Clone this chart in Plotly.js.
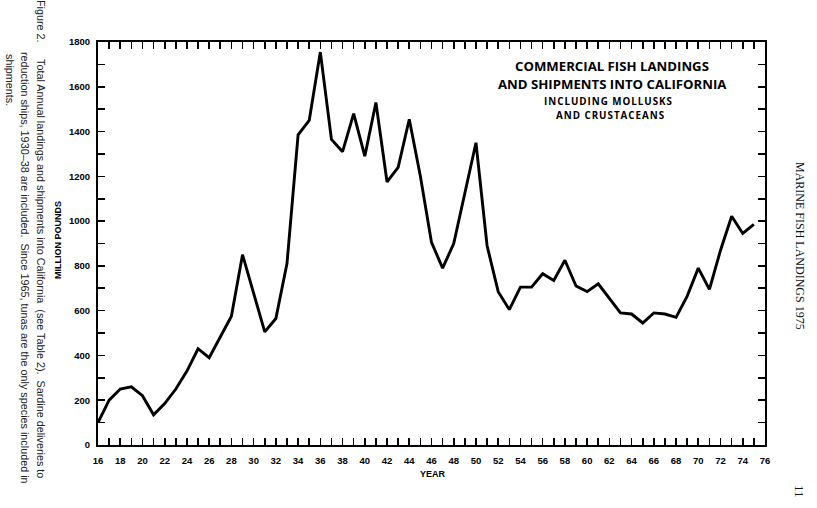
<!DOCTYPE html>
<html>
<head>
<meta charset="utf-8">
<script src="https://cdn.plot.ly/plotly-3.0.1.min.js"></script>
<style>
  html, body { margin: 0; padding: 0; background: #fff; }
  #chart { width: 817px; height: 508px; }
</style>
</head>
<body>
<div id="chart"></div>
<script>
// Year (19xx) and total landings (million pounds)
const years = [16,17,18,19,20,21,22,23,24,25,26,27,28,29,30,31,32,33,34,35,
               36,37,38,39,40,41,42,43,44,45,46,47,48,49,50,51,52,53,54,55,
               56,57,58,59,60,61,62,63,64,65,66,67,68,69,70,71,72,73,74,75];
const landings = [100,200,250,260,220,135,185,250,330,430,390,480,575,850,680,505,565,810,1385,1450,
                  1755,1365,1310,1480,1290,1530,1175,1240,1455,1200,905,790,900,1130,1350,890,685,605,705,705,
                  765,735,825,710,685,720,655,590,585,545,590,585,570,665,790,695,870,1022,945,985];

const xTickVals = [16,17,18,19,20,21,22,23,24,25,26,27,28,29,30,31,32,33,34,35,36,37,38,39,40,41,42,43,44,45,46,
                   47,48,49,50,51,52,53,54,55,56,57,58,59,60,61,62,63,64,65,66,67,68,69,70,71,72,73,74,75,76];
const xTickText = ['16','','18','','20','','22','','24','','26','','28','','30','','32','','34','','36','','38','','40','','42','','44','','46',
                   '','48','','50','','52','','54','','56','','58','','60','','62','','64','','66','','68','','70','','72','','74','','76'];
const yTickVals = [0,100,200,300,400,500,600,700,800,900,1000,1100,1200,1300,1400,1500,1600,1700,1800];
const yTickText = ['0','','200','','400','','600','','800','','1000','','1200','','1400','','1600','','1800'];

const titleLines = ['COMMERCIAL FISH LANDINGS', 'AND SHIPMENTS INTO CALIFORNIA'];
const subtitleLines = ['INCLUDING MOLLUSKS', 'AND CRUSTACEANS'];
const captionFigure = 'Figure 2.';
const captionLines = [
  'Total Annual landings and shipments into California  (see Table 2).  Sardine deliveries to',
  'reduction ships, 1930\u201338 are included.  Since 1965, tunas are the only species included in',
  'shipments.'
];
const runningHead = 'MARINE FISH LANDINGS 1975';
const pageNumber = '11';

// plot-area geometry helpers (pixel -> paper)
const L = 98, R = 765, T = 42, B = 445;
const px = x => (x - L) / (R - L);
const py = y => (B - y) / (B - T);

const tickFont = {family: 'Liberation Sans, Arial, sans-serif', size: 9.5, color: '#000', weight: 'bold'};

const trace = {
  x: years, y: landings, type: 'scatter', mode: 'lines',
  line: {color: '#000', width: 2.9, shape: 'linear'},
  hoverinfo: 'skip'
};

const annotations = [];
const titleFont = {family: 'Open Sans, Lato, sans-serif', size: 13.2, color: '#000', weight: 'bold'};
const subFont = {family: 'Open Sans, Lato, sans-serif', size: 9.8, color: '#000', weight: 'bold'};
annotations.push({xref:'paper', yref:'paper', x:px(612), y:py(66), text:titleLines[0], showarrow:false, font:titleFont, xanchor:'center', yanchor:'middle'});
annotations.push({xref:'paper', yref:'paper', x:px(612), y:py(84), text:titleLines[1], showarrow:false, font:titleFont, xanchor:'center', yanchor:'middle'});
annotations.push({xref:'paper', yref:'paper', x:px(608), y:py(101), text:subtitleLines[0].split('').join('\u200a'), showarrow:false, font:subFont, xanchor:'center', yanchor:'middle'});
annotations.push({xref:'paper', yref:'paper', x:px(610), y:py(115), text:subtitleLines[1].split('').join('\u200a'), showarrow:false, font:subFont, xanchor:'center', yanchor:'middle'});

// y-axis title
annotations.push({xref:'paper', yref:'paper', x:px(58), y:py(240), text:'MILLION POUNDS', textangle:-90, showarrow:false,
  font:{family:'Liberation Sans, Arial, sans-serif', size:9, color:'#000', weight:'bold'}, xanchor:'center', yanchor:'middle'});
// x-axis title
annotations.push({xref:'paper', yref:'paper', x:px(433), y:py(474), text:'YEAR', showarrow:false,
  font:{family:'Liberation Sans, Arial, sans-serif', size:9, color:'#000', weight:'bold'}, xanchor:'center', yanchor:'middle'});

// caption (rotated clockwise)
const capFont = {family:'Liberation Sans, Arial, sans-serif', size:10.8, color:'#222'};
annotations.push({xref:'paper', yref:'paper', x:px(41), y:py(21), text:captionFigure, textangle:90, showarrow:false, font:capFont, xanchor:'center', yanchor:'middle'});
annotations.push({xref:'paper', yref:'paper', x:px(41), y:py(268), text:captionLines[0], textangle:90, showarrow:false, font:capFont, xanchor:'center', yanchor:'middle'});
annotations.push({xref:'paper', yref:'paper', x:px(25), y:py(268), text:captionLines[1], textangle:90, showarrow:false, font:capFont, xanchor:'center', yanchor:'middle'});
annotations.push({xref:'paper', yref:'paper', x:px(10), y:py(80), text:captionLines[2], textangle:90, showarrow:false, font:capFont, xanchor:'center', yanchor:'middle'});

// running head and page number
const serif = {family:'Liberation Serif, Times New Roman, serif', size:12, color:'#111'};
annotations.push({xref:'paper', yref:'paper', x:px(800), y:py(246), text:runningHead, textangle:90, showarrow:false, font:serif, xanchor:'center', yanchor:'middle'});
annotations.push({xref:'paper', yref:'paper', x:px(800), y:py(491), text:pageNumber, textangle:90, showarrow:false, font:{family:serif.family, size:13, color:'#111'}, xanchor:'center', yanchor:'middle'});

const layout = {
  width: 817, height: 508,
  margin: {l: L, r: 817 - R, t: T, b: 508 - B, pad: 0},
  paper_bgcolor: '#fff', plot_bgcolor: '#fff',
  showlegend: false,
  xaxis: {
    range: [16, 76], fixedrange: true,
    tickmode: 'array', tickvals: xTickVals, ticktext: xTickText,
    ticks: 'inside', ticklen: 7, tickwidth: 1.6, tickcolor: '#000',
    showline: true, linecolor: '#000', linewidth: 2, mirror: 'ticks',
    showgrid: false, zeroline: false,
    tickfont: tickFont, ticklabelstandoff: 6
  },
  yaxis: {
    range: [0, 1800], fixedrange: true,
    tickmode: 'array', tickvals: yTickVals, ticktext: yTickText,
    ticks: 'inside', ticklen: 7, tickwidth: 1.6, tickcolor: '#000',
    showline: true, linecolor: '#000', linewidth: 2, mirror: 'ticks',
    showgrid: false, zeroline: false,
    tickfont: tickFont, ticklabelstandoff: 4
  },
  annotations: annotations
};

Plotly.newPlot('chart', [trace], layout, {displayModeBar: false, staticPlot: true});
</script>
</body>
</html>
